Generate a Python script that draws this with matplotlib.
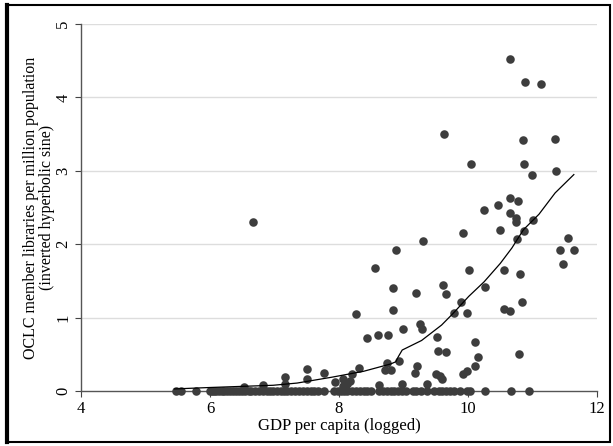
#!/usr/bin/env python3
import matplotlib
matplotlib.use('Agg')
import matplotlib.pyplot as plt
from matplotlib.patches import Rectangle
from matplotlib.lines import Line2D

# countries with no OCLC member libraries (value 0)
zero_x = [5.47, 5.55, 5.79, 6.00, 6.03, 6.07, 6.10, 6.14, 6.18, 6.22, 6.27, 6.31,
          6.36, 6.40, 6.45, 6.50, 6.55, 6.60, 6.64, 6.70, 6.76, 6.82, 6.88, 6.93,
          6.98, 7.04, 7.10, 7.15, 7.20, 7.26, 7.32, 7.38, 7.44, 7.50, 7.56, 7.62,
          7.68, 7.76, 7.93, 7.98, 8.03, 8.08, 8.13, 8.20, 8.26, 8.32, 8.38, 8.44,
          8.50, 8.62, 8.68, 8.74, 8.80, 8.86, 8.92, 8.98, 9.04, 9.14, 9.20, 9.27,
          9.36, 9.48, 9.55, 9.60, 9.66, 9.72, 9.78, 9.87, 9.98, 10.03, 10.26,
          10.66, 10.94]

# countries with at least one member library
gdp = [10.65, 10.88, 11.13, 9.62, 10.85, 11.35, 10.04, 10.87, 11.36, 10.99,
       6.66, 10.47, 10.65, 10.77, 10.24, 10.65, 10.75, 10.75, 10.50, 9.92,
       10.86, 11.00, 10.76, 9.30, 11.55, 11.42, 11.64, 8.88, 11.47, 8.56,
       10.02, 10.56, 10.80, 9.61, 8.84, 10.27, 9.66, 9.19, 9.89, 10.84,
       9.79, 9.98, 10.55, 10.65, 8.84, 8.27, 9.25, 9.29, 8.99, 8.44,
       8.60, 8.76, 9.52, 10.11, 9.53, 9.66, 10.79, 10.16, 8.93, 8.75,
       10.11, 9.21, 8.31, 8.71, 8.80, 9.18, 9.51, 9.99, 9.92, 9.56,
       9.59, 7.51, 7.77, 8.20, 7.51, 7.16, 7.16, 8.97, 9.37, 7.94,
       8.06, 8.13, 8.17, 8.62, 6.82, 6.52, 8.06]
libs = [4.52, 4.21, 4.18, 3.50, 3.42, 3.44, 3.09, 3.09, 3.00, 2.94,
        2.30, 2.53, 2.63, 2.59, 2.47, 2.42, 2.36, 2.30, 2.19, 2.16,
        2.18, 2.33, 2.07, 2.05, 2.08, 1.92, 1.92, 1.92, 1.73, 1.68,
        1.65, 1.65, 1.60, 1.44, 1.41, 1.42, 1.32, 1.34, 1.21, 1.21,
        1.07, 1.06, 1.12, 1.09, 1.11, 1.05, 0.91, 0.85, 0.85, 0.73,
        0.76, 0.77, 0.74, 0.67, 0.55, 0.53, 0.51, 0.46, 0.41, 0.39,
        0.34, 0.34, 0.31, 0.29, 0.29, 0.25, 0.24, 0.28, 0.24, 0.20,
        0.17, 0.30, 0.25, 0.23, 0.16, 0.19, 0.10, 0.10, 0.10, 0.12,
        0.17, 0.10, 0.14, 0.08, 0.08, 0.05, 0.07]

# smoothed fit
fit_x = [5.45, 6.01, 6.98, 7.35, 7.89, 8.38, 8.80, 8.88, 8.92, 8.98, 9.28, 9.59,
         9.77, 10.01, 10.25, 10.50, 10.68, 10.86, 11.10, 11.35, 11.64]
fit_y = [0.03, 0.05, 0.08, 0.11, 0.19, 0.27, 0.37, 0.40, 0.47, 0.56, 0.69, 0.90,
         1.06, 1.29, 1.49, 1.74, 1.95, 2.20, 2.41, 2.70, 2.95]

xticks = [4, 6, 8, 10, 12]
yticks = [0, 1, 2, 3, 4, 5]


def main():
    plt.rcParams['font.family'] = ['Liberation Serif', 'DejaVu Serif']
    fig = plt.figure(figsize=(6.13, 4.46), dpi=100)
    ax = fig.add_axes([0.132, 0.123, 0.842, 0.823])

    dot = '#3d3d3d'
    ax.scatter(zero_x, [0] * len(zero_x), s=38, color=dot, lw=0, zorder=3, clip_on=False)
    ax.scatter(gdp, libs, s=38, color=dot, lw=0, zorder=3, clip_on=False)
    ax.plot(fit_x, fit_y, color='black', lw=0.9, zorder=4)

    ax.set_xlim(4, 12)
    ax.set_ylim(0, 5)
    ax.set_xticks(xticks)
    ax.set_yticks(yticks)
    ax.set_yticklabels([str(t) for t in yticks], rotation=90, va='center')
    ax.tick_params(labelsize=12, length=4, color='#444444', pad=3)
    for t in yticks[1:]:
        ax.axhline(t, color='#dddddd', lw=1, zorder=1)

    for side in ['top', 'right']:
        ax.spines[side].set_visible(False)
    for side in ['left', 'bottom']:
        ax.spines[side].set_color('#555555')
        ax.spines[side].set_linewidth(1)

    ax.set_xlabel('GDP per capita (logged)', fontsize=12)
    ax.xaxis.set_label_coords(0.5, -0.072)
    ax.set_ylabel('OCLC member libraries per million population\n(inverted hyperbolic sine)',
                  fontsize=11.5, linespacing=1.0)
    ax.yaxis.set_label_coords(-0.05, 0.5)

    # black frame round the picture
    fig.patches.append(Rectangle((0.011, 0.009), 0.984, 0.979, transform=fig.transFigure,
                                 fill=False, edgecolor='black', lw=1.5))
    fig.lines.append(Line2D([0.011, 0.011], [0.009, 0.988], transform=fig.transFigure,
                            color='black', lw=3))

    fig.savefig('out.png', dpi=100)


if __name__ == '__main__':
    main()
